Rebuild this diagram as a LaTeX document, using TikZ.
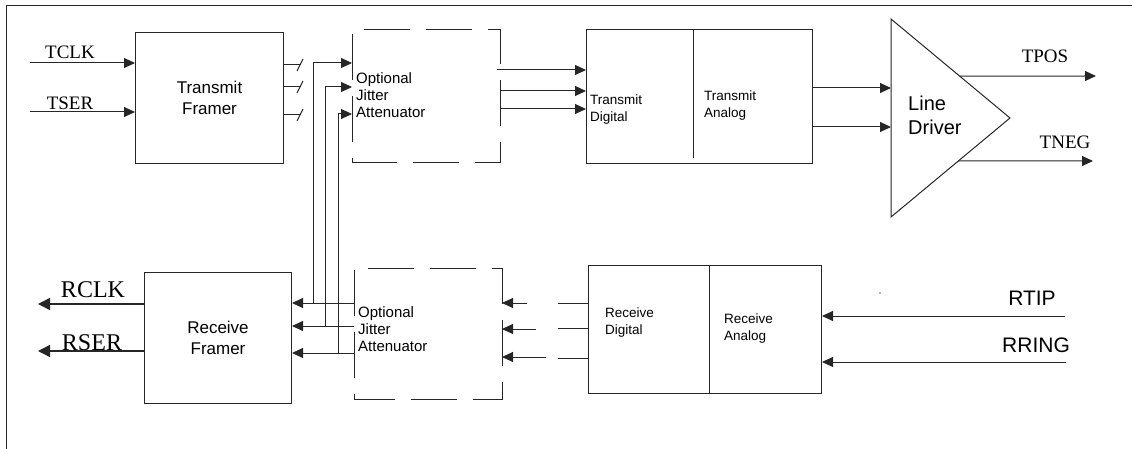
\documentclass[tikz,border=0pt]{standalone}
\usepackage{fontspec}
\setmainfont{Liberation Serif}
\setsansfont{Liberation Sans}
\usetikzlibrary{arrows.meta,calc}
\begin{document}
\begin{tikzpicture}[x=1pt,y=-1pt,
  ln/.style={draw=black!85, line width=1pt},
  arr/.style={ln, -{Triangle[length=11pt,width=10pt]}},
  arrbig/.style={ln, line width=1.4pt, -{Triangle[length=12pt,width=12pt]}},
  box/.style={draw=black!85, line width=1pt, inner sep=0pt, anchor=north west},
  dashbox/.style={draw=black!85, line width=1pt, dash pattern=on 46pt off 16pt, dash phase=41pt},
  lblT/.style={font=\fontsize{19}{19}\selectfont, inner sep=0pt},
  lblR/.style={font=\fontsize{24}{24}\selectfont, inner sep=0pt},
  lblS/.style={font=\sffamily\fontsize{21}{21}\selectfont, inner sep=0pt},
  fr/.style={box, font=\sffamily\fontsize{17}{21}\selectfont, align=center},
  jt/.style={font=\sffamily\fontsize{15}{17}\selectfont, align=left, inner sep=0pt, anchor=north west},
  dg/.style={font=\sffamily\fontsize{13.5}{16.5}\selectfont, align=left, inner sep=0pt, anchor=north west},
  ldtext/.style={font=\sffamily\fontsize{20}{24}\selectfont, align=left, inner sep=0pt, anchor=north west}
]
\useasboundingbox (0,0) rectangle (1132,449);

% outer frame
\coordinate (frTR) at (1132,6);
\coordinate (frTL) at (6,6);
\coordinate (frBL) at (6,449);
\draw[ln] (frTR) -- (frTL) -- (frBL);

% boxes
\node[fr, minimum width=148pt, minimum height=131pt] (tf) at (135,32) {Transmit\\Framer};
\node[fr, minimum width=147pt, minimum height=131pt] (rf) at (144,272) {Receive\\Framer};
\node[box, draw=none, minimum width=147pt, minimum height=132pt] (tj) at (352,30) {};
\node[box, draw=none, minimum width=147pt, minimum height=130pt] (rj) at (354,268) {};
\draw[dashbox] (tj.south west) -- (tj.north west) -- (tj.north east) -- (tj.south east) -- cycle;
\draw[dashbox] (rj.south west) -- (rj.north west) -- (rj.north east) -- (rj.south east) -- cycle;
\node[jt] (tjt) at (356,72) {Optional\\Jitter\\Attenuator};
\node[jt] (rjt) at (358,306) {Optional\\Jitter\\Attenuator};

\node[box, minimum width=226pt, minimum height=134pt] (tx) at (586,29) {};
\draw[ln] (tx.north -| 693,0) -- (693,158);
\node[dg] (txd) at (590,95) {Transmit\\Digital};
\node[dg] (txa) at (704,91) {Transmit\\Analog};

\node[box, minimum width=233pt, minimum height=128pt] (rx) at (588,265) {};
\draw[ln] (rx.north -| 709,0) -- (rx.south -| 709,0);
\node[dg] (rxd) at (605,308) {Receive\\Digital};
\node[dg] (rxa) at (724,314) {Receive\\Analog};

% line driver
\coordinate (ldA) at (891,19);
\coordinate (ldB) at (891,217);
\coordinate (ldT) at (1010,118);
\draw[ln] (ldA) -- (ldT) -- (ldB) -- cycle;
\node[ldtext] (ldt) at (908,96) {Line\\Driver};

% transmit inputs
\node[lblT] (tclk) at (70,52) {TCLK};
\node[lblT] (tser) at (70,103) {TSER};
\coordinate (tclkS) at (30,63);
\coordinate (tserS) at (30,112);
\draw[arr] (tclkS) -- (tclkS -| tf.west);
\draw[arr] (tserS) -- (tserS -| tf.west);

% framer outputs with slashes
\foreach \yy in {65,87,115}{
  \draw[ln] (tf.east |- 0,\yy) -- ++(17,0);
  \draw[ln] (297,\yy+6) -- (303,\yy-6);
}

% receive jitter to receive framer and loop to transmit jitter
\coordinate (j1) at (313,303);
\coordinate (j2) at (325,326);
\coordinate (j3) at (338,353);
\draw[arr] (rj.west |- j1) -- (rf.east |- j1);
\draw[arr] (rj.west |- j2) -- (rf.east |- j2);
\draw[arr] (rj.west |- j3) -- (rf.east |- j3);
\draw[arr] (j1) |- (tj.west |- 0,63);
\draw[arr] (j2) |- (tj.west |- 0,87);
\draw[arr] (j3) |- (tj.west |- 0,114);

% transmit jitter to transmit digital
\draw[arr] (497,70) -- (tx.west |- 0,70);
\draw[arr] (tj.east |- 0,91) -- (tx.west |- 0,91);
\draw[arr] (tj.east |- 0,109) -- (tx.west |- 0,109);

% transmit analog to line driver
\draw[arr] (tx.east |- 0,88) -- (ldA |- 0,88);
\draw[arr] (tx.east |- 0,127) -- (ldA |- 0,127);

% line driver outputs
\coordinate (tposS) at ($(ldA)!0.576!(ldT)$);
\coordinate (tnegS) at ($(ldB)!0.566!(ldT)$);
\draw[arr] (tposS) -- (1096,76);
\draw[arr] (tnegS) -- (1093,161);
\node[lblT] (tpos) at (1045,56) {TPOS};
\node[lblT] (tneg) at (1065,142) {TNEG};

% receive inputs
\node[lblS] (rtip) at (1032,298) {RTIP};
\node[lblS] (rring) at (1036,345) {RRING};
\coordinate (rtipS) at (1065,316);
\coordinate (rringS) at (1066,362);
\draw[arr] (rtipS) -- (rtipS -| rx.east);
\draw[arr] (rringS) -- (rringS -| rx.east);
\fill[black!60] (880,293) circle (0.8);

% receive digital to receive jitter (broken lines)
\draw[ln] (rx.west |- 0,303) -- (558,303);
\draw[ln] (rx.west |- 0,328) -- (558,328);
\draw[ln] (rx.west |- 0,358) -- (558,358);
\draw[arr] (527,303) -- (rj.east |- 0,303);
\draw[arr] (536,329) -- (rj.east |- 0,329);
\draw[arr] (546,357) -- (rj.east |- 0,357);

% receive framer outputs
\node[lblR] (rclk) at (93,290) {RCLK};
\node[lblR] (rser) at (92,343) {RSER};
\draw[arrbig] (rf.west |- 0,304) -- (38,304);
\draw[arrbig] (rf.west |- 0,351) -- (38,351);
\end{tikzpicture}
\end{document}
